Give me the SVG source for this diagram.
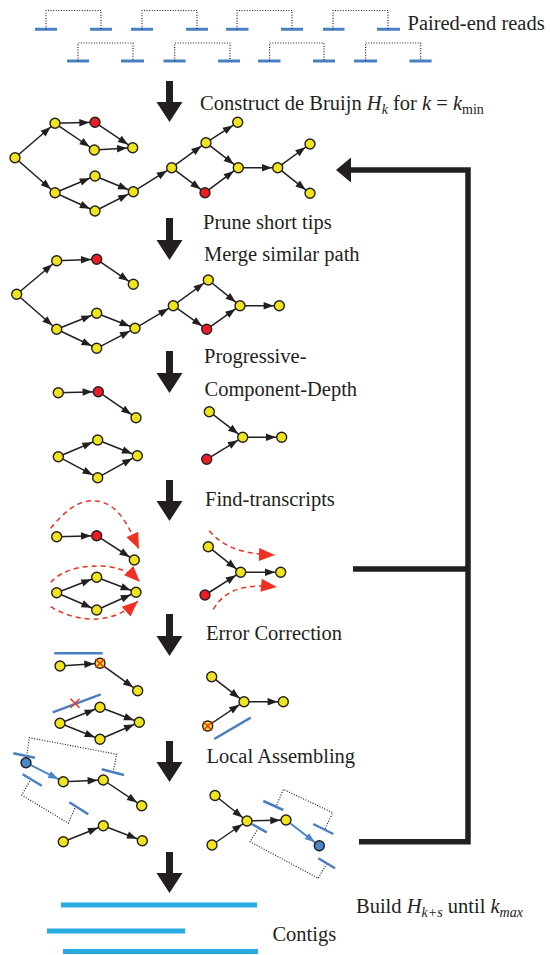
<svg xmlns="http://www.w3.org/2000/svg" width="550" height="955" viewBox="0 0 550 955">
<defs>
<style>
.t{font-family:"Liberation Serif","Times New Roman",serif;font-size:20.5px;fill:#231f20}
.i{font-style:italic}
.rd{stroke:#4a7fc1;stroke-width:3;fill:none}
.br{stroke:#231f20;stroke-width:1.2;stroke-dasharray:1 1.6;fill:none}
.e{stroke:#231f20;stroke-width:1.5;fill:none;marker-end:url(#ah)}
.be{stroke:#4a86c8;stroke-width:2;fill:none;marker-end:url(#bh)}
.rp{stroke:#ee3124;stroke-width:1.5;stroke-dasharray:5 4;fill:none;marker-end:url(#rh)}
.bl{stroke:#4a7fc1;stroke-width:2.5;fill:none}
.x{stroke:#ee3124;stroke-width:1.5;fill:none}
.y{fill:#f0e51c;stroke:#231f20;stroke-width:1.4}
.r{fill:#ed1c24;stroke:#231f20;stroke-width:1.4}
.b{fill:#4a86c8;stroke:#231f20;stroke-width:1.4}
.big{fill:#231f20}
.loop{stroke:#231f20;stroke-width:5.5;fill:none}
.ct{stroke:#29abe2;stroke-width:5;fill:none}
</style>
<marker id="ah" markerUnits="userSpaceOnUse" markerWidth="17" markerHeight="8" refX="15.7" refY="3.75" orient="auto" overflow="visible"><path d="M0,0 L10,3.75 L0,7.5 z" fill="#231f20"/></marker>
<marker id="bh" markerUnits="userSpaceOnUse" markerWidth="17" markerHeight="8" refX="15.7" refY="3.75" orient="auto" overflow="visible"><path d="M0,0 L10,3.75 L0,7.5 z" fill="#4a86c8"/></marker>
<marker id="rh" markerUnits="userSpaceOnUse" markerWidth="17" markerHeight="13" refX="16" refY="6.5" orient="auto" overflow="visible"><path d="M0,0 L16,6.5 L0,13 z" fill="#ee3124"/></marker>
</defs>
<rect width="550" height="955" fill="#fff"/>

<!-- paired-end reads -->
<g id="reads">
<path class="rd" d="M35,29.3H57M90,29.3H112M131,29.3H153M186,29.3H208M226,29.3H248.5M281,29.3H303M323,29.3H344.5M377,29.3H400"/>
<path class="br" d="M46,29.3V10.5H101V29.3M142,29.3V10.5H197V29.3M237,29.3V10.5H292V29.3M333,29.3V10.5H388V29.3"/>
<path class="rd" d="M67,61H89M121,61H144M163.5,61H185.6M218,61H240M258,61H280.5M313,61H335M354,61H377M409.5,61H431.6"/>
<path class="br" d="M78,61V43H133V61M174.7,61V43H230V61M269.6,61V43H324V61M365.6,61V43H420.7V61"/>
</g>

<!-- texts -->
<g id="labels" font-family="'Liberation Serif','Times New Roman',serif">
<text class="t" x="407.5" y="29.5">Paired-end reads</text>
<text class="t" x="200" y="110">Construct de Bruijn <tspan class="i">H</tspan><tspan class="i" font-size="14" dy="4">k</tspan><tspan dy="-4"> for </tspan><tspan class="i">k</tspan> = <tspan class="i">k</tspan><tspan font-size="14" dy="4">min</tspan></text>
<text class="t" x="203" y="229">Prune short tips</text>
<text class="t" x="204" y="261">Merge similar path</text>
<text class="t" x="204" y="363">Progressive-</text>
<text class="t" x="204.5" y="396">Component-Depth</text>
<text class="t" x="205" y="505.5">Find-transcripts</text>
<text class="t" x="206" y="640">Error Correction</text>
<text class="t" x="206.5" y="763">Local Assembling</text>
<text class="t" x="356" y="912.5">Build <tspan class="i">H</tspan><tspan class="i" font-size="14" dy="4">k+s</tspan><tspan dy="-4"> until </tspan><tspan class="i">k</tspan><tspan class="i" font-size="14" dy="4">max</tspan></text>
<text class="t" x="272.4" y="941">Contigs</text>
</g>

<!-- big step arrows -->
<g id="steps" class="big">
<path d="M166,81H173V102H182.5L169.5,122L156.5,102H166Z"/>
<path d="M166,218H173V240H182.5L169.5,260L156.5,240H166Z"/>
<path d="M166,351H173V373H182.5L169.5,393L156.5,373H166Z"/>
<path d="M166,480H173V501H182.5L169.5,521L156.5,501H166Z"/>
<path d="M166,614H173V636H182.5L169.5,656L156.5,636H166Z"/>
<path d="M166,741H173V762H182.5L169.5,782L156.5,762H166Z"/>
<path d="M166,852H173V873H182.5L169.5,893L156.5,873H166Z"/>
</g>

<!-- feedback loop -->
<g id="loop">
<path class="loop" d="M350,170H468V844.5M353,569H468M359,841.7H468"/>
<path class="big" d="M336,170L351,157.5V182.5Z"/>
</g>

<!-- connectors -->
<g id="connectors">
<!-- graph 1 -->
<line class="e" x1="15" y1="157.7" x2="55" y2="123.3"/>
<line class="e" x1="55" y1="123.3" x2="95" y2="122.3"/>
<line class="e" x1="95" y1="122.3" x2="132.7" y2="147.7"/>
<line class="e" x1="55" y1="123.3" x2="94.3" y2="150"/>
<line class="e" x1="94.3" y1="150" x2="132.7" y2="147.7"/>
<line class="e" x1="15" y1="157.7" x2="55" y2="192.7"/>
<line class="e" x1="55" y1="192.7" x2="95" y2="176"/>
<line class="e" x1="55" y1="192.7" x2="95" y2="211"/>
<line class="e" x1="95" y1="176" x2="133.3" y2="191.7"/>
<line class="e" x1="95" y1="211" x2="133.3" y2="191.7"/>
<line class="e" x1="133.3" y1="191.7" x2="171.7" y2="167.7"/>
<line class="e" x1="171.7" y1="167.7" x2="206" y2="142.7"/>
<line class="e" x1="206" y1="142.7" x2="237.7" y2="122.3"/>
<line class="e" x1="206" y1="142.7" x2="238.3" y2="167.7"/>
<line class="e" x1="171.7" y1="167.7" x2="205" y2="192.7"/>
<line class="e" x1="205" y1="192.7" x2="238.3" y2="167.7"/>
<line class="e" x1="238.3" y1="167.7" x2="277.7" y2="167.7"/>
<line class="e" x1="277.7" y1="167.7" x2="310" y2="144"/>
<line class="e" x1="277.7" y1="167.7" x2="310" y2="193.3"/>
<!-- graph 2 -->
<line class="e" x1="16.7" y1="294.3" x2="56.7" y2="260.7"/>
<line class="e" x1="56.7" y1="260.7" x2="96.7" y2="259.3"/>
<line class="e" x1="96.7" y1="259.3" x2="133.3" y2="284.3"/>
<line class="e" x1="16.7" y1="294.3" x2="56.7" y2="329.3"/>
<line class="e" x1="56.7" y1="329.3" x2="96.7" y2="313.3"/>
<line class="e" x1="56.7" y1="329.3" x2="96.7" y2="348.3"/>
<line class="e" x1="96.7" y1="313.3" x2="135" y2="328.3"/>
<line class="e" x1="96.7" y1="348.3" x2="135" y2="328.3"/>
<line class="e" x1="135" y1="328.3" x2="173.3" y2="305.7"/>
<line class="e" x1="173.3" y1="305.7" x2="208.3" y2="280"/>
<line class="e" x1="208.3" y1="280" x2="240" y2="305.7"/>
<line class="e" x1="173.3" y1="305.7" x2="206.7" y2="329.3"/>
<line class="e" x1="206.7" y1="329.3" x2="240" y2="305.7"/>
<line class="e" x1="240" y1="305.7" x2="279.3" y2="305.7"/>
<!-- graph 3 -->
<line class="e" x1="58.3" y1="392.7" x2="98.3" y2="391.7"/>
<line class="e" x1="98.3" y1="391.7" x2="136" y2="417.7"/>
<line class="e" x1="58.3" y1="456.7" x2="97.7" y2="440"/>
<line class="e" x1="58.3" y1="456.7" x2="97.7" y2="477.7"/>
<line class="e" x1="97.7" y1="440" x2="137.3" y2="455.7"/>
<line class="e" x1="97.7" y1="477.7" x2="137.3" y2="455.7"/>
<line class="e" x1="209.3" y1="411.7" x2="242.7" y2="437.3"/>
<line class="e" x1="206.7" y1="459.3" x2="242.7" y2="437.3"/>
<line class="e" x1="242.7" y1="437.3" x2="281.7" y2="437.3"/>
<!-- graph 4 -->
<line class="e" x1="56.7" y1="536.7" x2="96.7" y2="535.7"/>
<line class="e" x1="96.7" y1="535.7" x2="134.3" y2="560"/>
<line class="e" x1="56.7" y1="592.7" x2="96.7" y2="577.3"/>
<line class="e" x1="56.7" y1="592.7" x2="96.7" y2="610"/>
<line class="e" x1="96.7" y1="577.3" x2="136" y2="592.3"/>
<line class="e" x1="96.7" y1="610" x2="136" y2="592.3"/>
<line class="e" x1="208.3" y1="546.7" x2="240.7" y2="572.3"/>
<line class="e" x1="205" y1="595" x2="240.7" y2="572.3"/>
<line class="e" x1="240.7" y1="572.3" x2="280.7" y2="572.3"/>
<path class="rp" d="M50.7,528.3C72,502 86,500 96,501C118,503 128,525 139,549"/>
<path class="rp" d="M50.7,582.3C62,570 80,566 97,566C115,566 128,570 140,582"/>
<path class="rp" d="M50.7,606.7C65,616 85,620 97,619C115,618 128,610 138,601"/>
<path class="rp" d="M209.3,530.7C222,546 240,554 275,555"/>
<path class="rp" d="M213.3,609.3C224,592 240,583 277,587"/>
<!-- graph 5 -->
<line class="e" x1="60" y1="666" x2="100" y2="663.3"/>
<line class="e" x1="100" y1="663.3" x2="137.7" y2="690.7"/>
<line class="e" x1="60" y1="723.3" x2="100" y2="707.3"/>
<line class="e" x1="60" y1="723.3" x2="100" y2="739.3"/>
<line class="e" x1="100" y1="707.3" x2="139.3" y2="722.3"/>
<line class="e" x1="100" y1="739.3" x2="139.3" y2="722.3"/>
<line class="e" x1="211.7" y1="676.7" x2="244" y2="701.7"/>
<line class="e" x1="207.7" y1="726" x2="244" y2="701.7"/>
<line class="e" x1="244" y1="701.7" x2="283.3" y2="701.7"/>
<path class="bl" d="M54.3,653.3H102.7M52.7,712.3L100.7,694.3M214.3,739L250.7,717.7"/>
<!-- graph 6 -->
<path class="br" d="M26.7,756L29.3,737.7L116.7,754.3L113,772M31,779L21.7,795L68.3,823.3L75,808"/>
<path class="bl" d="M13.3,753.3L35,757.7M22.7,774.3L41.7,785.7M101.7,769.3L124,775M69.3,802.3L88.3,814.3"/>
<line class="be" x1="26" y1="762.7" x2="63.3" y2="781.7"/>
<line class="e" x1="63.3" y1="781.7" x2="103.3" y2="780"/>
<line class="e" x1="103.3" y1="780" x2="141.7" y2="805.7"/>
<line class="e" x1="63.3" y1="841.7" x2="103.3" y2="825.7"/>
<line class="e" x1="103.3" y1="825.7" x2="142.3" y2="840.7"/>
<path class="br" d="M276.7,805L283.3,789.3L332.7,812.7L325,829M258.3,828.3L250,841.7L318.3,878.3L326.7,863.3"/>
<path class="bl" d="M263.3,801L283.3,810M251.7,824L266.7,832.3M313.3,824L333.3,834M318.3,858.3L335,868.3"/>
<line class="e" x1="215" y1="795.5" x2="247" y2="821"/>
<line class="e" x1="212" y1="845" x2="247" y2="821"/>
<line class="e" x1="247" y1="821" x2="286" y2="820"/>
<line class="be" x1="286" y1="820" x2="319.3" y2="845.7"/>
</g>

<!-- nodes graph 1 -->
<g id="g1-A"><circle class="y" cx="15" cy="157.7" r="5"/></g>
<g id="g1-B"><circle class="y" cx="55" cy="123.3" r="5"/></g>
<g id="g1-C"><circle class="r" cx="95" cy="122.3" r="5"/></g>
<g id="g1-D"><circle class="y" cx="94.3" cy="150" r="5"/></g>
<g id="g1-E"><circle class="y" cx="132.7" cy="147.7" r="5"/></g>
<g id="g1-F"><circle class="y" cx="55" cy="192.7" r="5"/></g>
<g id="g1-G"><circle class="y" cx="95" cy="176" r="5"/></g>
<g id="g1-H"><circle class="y" cx="95" cy="211" r="5"/></g>
<g id="g1-I"><circle class="y" cx="133.3" cy="191.7" r="5"/></g>
<g id="g1-J"><circle class="y" cx="171.7" cy="167.7" r="5"/></g>
<g id="g1-K"><circle class="y" cx="206" cy="142.7" r="5"/></g>
<g id="g1-L"><circle class="y" cx="237.7" cy="122.3" r="5"/></g>
<g id="g1-M"><circle class="y" cx="238.3" cy="167.7" r="5"/></g>
<g id="g1-N"><circle class="r" cx="205" cy="192.7" r="5"/></g>
<g id="g1-O"><circle class="y" cx="277.7" cy="167.7" r="5"/></g>
<g id="g1-P"><circle class="y" cx="310" cy="144" r="5"/></g>
<g id="g1-Q"><circle class="y" cx="310" cy="193.3" r="5"/></g>
<!-- graph 2 -->
<g id="g2-A"><circle class="y" cx="16.7" cy="294.3" r="5"/></g>
<g id="g2-B"><circle class="y" cx="56.7" cy="260.7" r="5"/></g>
<g id="g2-C"><circle class="r" cx="96.7" cy="259.3" r="5"/></g>
<g id="g2-E"><circle class="y" cx="133.3" cy="284.3" r="5"/></g>
<g id="g2-F"><circle class="y" cx="56.7" cy="329.3" r="5"/></g>
<g id="g2-G"><circle class="y" cx="96.7" cy="313.3" r="5"/></g>
<g id="g2-H"><circle class="y" cx="96.7" cy="348.3" r="5"/></g>
<g id="g2-I"><circle class="y" cx="135" cy="328.3" r="5"/></g>
<g id="g2-J"><circle class="y" cx="173.3" cy="305.7" r="5"/></g>
<g id="g2-K"><circle class="y" cx="208.3" cy="280" r="5"/></g>
<g id="g2-M"><circle class="y" cx="240" cy="305.7" r="5"/></g>
<g id="g2-N"><circle class="r" cx="206.7" cy="329.3" r="5"/></g>
<g id="g2-O"><circle class="y" cx="279.3" cy="305.7" r="5"/></g>
<!-- graph 3 -->
<g id="g3-a"><circle class="y" cx="58.3" cy="392.7" r="5"/></g>
<g id="g3-b"><circle class="r" cx="98.3" cy="391.7" r="5"/></g>
<g id="g3-c"><circle class="y" cx="136" cy="417.7" r="5"/></g>
<g id="g3-d"><circle class="y" cx="58.3" cy="456.7" r="5"/></g>
<g id="g3-e"><circle class="y" cx="97.7" cy="440" r="5"/></g>
<g id="g3-f"><circle class="y" cx="97.7" cy="477.7" r="5"/></g>
<g id="g3-g"><circle class="y" cx="137.3" cy="455.7" r="5"/></g>
<g id="g3-h"><circle class="y" cx="209.3" cy="411.7" r="5"/></g>
<g id="g3-i"><circle class="y" cx="242.7" cy="437.3" r="5"/></g>
<g id="g3-j"><circle class="y" cx="281.7" cy="437.3" r="5"/></g>
<g id="g3-k"><circle class="r" cx="206.7" cy="459.3" r="5"/></g>
<!-- graph 4 -->
<g id="g4-a"><circle class="y" cx="56.7" cy="536.7" r="5"/></g>
<g id="g4-b"><circle class="r" cx="96.7" cy="535.7" r="5"/></g>
<g id="g4-c"><circle class="y" cx="134.3" cy="560" r="5"/></g>
<g id="g4-d"><circle class="y" cx="56.7" cy="592.7" r="5"/></g>
<g id="g4-e"><circle class="y" cx="96.7" cy="577.3" r="5"/></g>
<g id="g4-f"><circle class="y" cx="96.7" cy="610" r="5"/></g>
<g id="g4-g"><circle class="y" cx="136" cy="592.3" r="5"/></g>
<g id="g4-h"><circle class="y" cx="208.3" cy="546.7" r="5"/></g>
<g id="g4-i"><circle class="y" cx="240.7" cy="572.3" r="5"/></g>
<g id="g4-j"><circle class="y" cx="280.7" cy="572.3" r="5"/></g>
<g id="g4-k"><circle class="r" cx="205" cy="595" r="5"/></g>
<!-- graph 5 -->
<g id="g5-a"><circle class="y" cx="60" cy="666" r="5"/></g>
<g id="g5-b"><circle class="y" cx="100" cy="663.3" r="5"/><path class="x" d="M95.5,658.8L104.5,667.8M104.5,658.8L95.5,667.8"/></g>
<g id="g5-c"><circle class="y" cx="137.7" cy="690.7" r="5"/></g>
<g id="g5-d"><circle class="y" cx="60" cy="723.3" r="5"/></g>
<g id="g5-e"><circle class="y" cx="100" cy="707.3" r="5"/></g>
<g id="g5-f"><circle class="y" cx="100" cy="739.3" r="5"/></g>
<g id="g5-g"><circle class="y" cx="139.3" cy="722.3" r="5"/></g>
<g id="g5-h"><circle class="y" cx="211.7" cy="676.7" r="5"/></g>
<g id="g5-i"><circle class="y" cx="244" cy="701.7" r="5"/></g>
<g id="g5-j"><circle class="y" cx="283.3" cy="701.7" r="5"/></g>
<g id="g5-k"><circle class="y" cx="207.7" cy="726" r="5"/><path class="x" d="M203.2,721.5L212.2,730.5M212.2,721.5L203.2,730.5"/></g>
<g id="g5-x"><path class="x" d="M70.5,698.8L79.5,707.8M79.5,698.8L70.5,707.8"/></g>
<!-- graph 6 -->
<g id="g6-s"><circle class="b" cx="26" cy="762.7" r="5"/></g>
<g id="g6-a"><circle class="y" cx="63.3" cy="781.7" r="5"/></g>
<g id="g6-b"><circle class="y" cx="103.3" cy="780" r="5"/></g>
<g id="g6-c"><circle class="y" cx="141.7" cy="805.7" r="5"/></g>
<g id="g6-d"><circle class="y" cx="63.3" cy="841.7" r="5"/></g>
<g id="g6-e"><circle class="y" cx="103.3" cy="825.7" r="5"/></g>
<g id="g6-f"><circle class="y" cx="142.3" cy="840.7" r="5"/></g>
<g id="g6-h"><circle class="y" cx="215" cy="795.5" r="5"/></g>
<g id="g6-i"><circle class="y" cx="247" cy="821" r="5"/></g>
<g id="g6-j"><circle class="y" cx="286" cy="820" r="5"/></g>
<g id="g6-t"><circle class="b" cx="319.3" cy="845.7" r="5"/></g>
<g id="g6-k"><circle class="y" cx="212" cy="845" r="5"/></g>

<!-- contigs -->
<g id="contigs">
<path class="ct" d="M61,905H257M47,931H185M63,951.5H258"/>
</g>
</svg>
